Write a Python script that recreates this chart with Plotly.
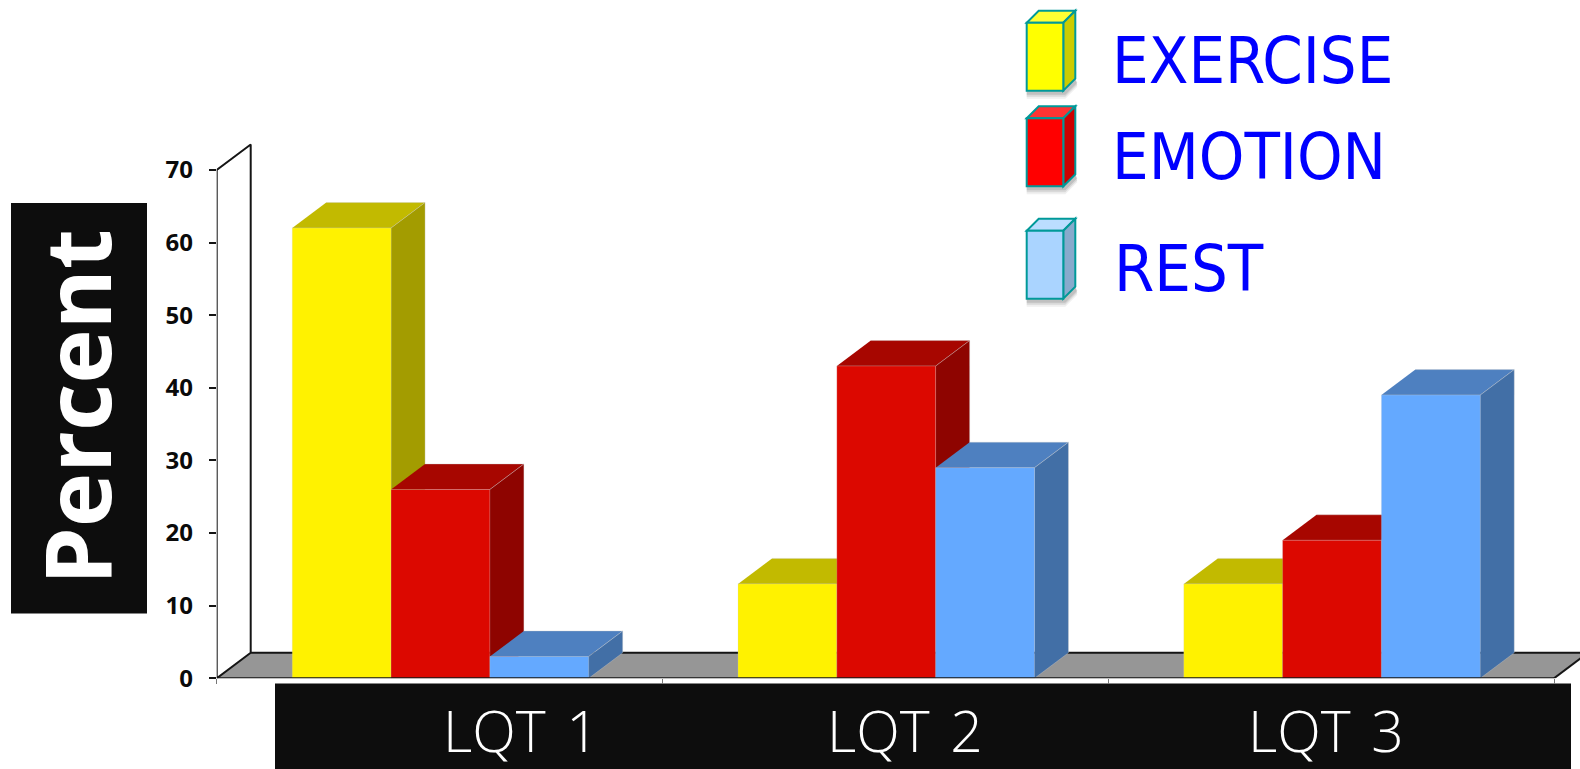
import plotly.graph_objects as go

# Chart data
categories = ["LQT 1", "LQT 2", "LQT 3"]
exercise = [62, 13, 13]
emotion = [26, 43, 19]
rest = [3, 29, 39]
y_ticks = [0, 10, 20, 30, 40, 50, 60, 70]
legend_names = ["EXERCISE", "EMOTION", "REST"]
axis_title = "Percent"

# Canvas and plot-area geometry, in pixels
W, H = 1580, 769
X0, X3, Y0, Y70 = 216.7, 1554.0, 678.3, 170.0
PX_PER_CAT = (X3 - X0) / 3
PX_PER_UNIT = (Y0 - Y70) / 70
DEPTH_X = 34 / PX_PER_CAT
DEPTH_Y = 25.5 / PX_PER_UNIT
X_MAX = (W - X0) / PX_PER_CAT
Y_MAX = 75
BAR_GAP = 0.335
BAR_W = (1 - BAR_GAP) / 3
GROUP_SHIFT = 0.002


def px(x):
    return x / W


def py(y):
    return 1 - y / H


series = [
    ("Exercise", exercise, "#FFF200", "#C2BA00", "#A39C00"),
    ("Emotion", emotion, "#DC0800", "#A70600", "#8E0400"),
    ("Rest", rest, "#64A9FF", "#4E80C0", "#426FA6"),
]

fig = go.Figure()


def polygon(xs, ys, fill, edge="rgba(0,0,0,0)", width=0, axes=("x", "y")):
    fig.add_trace(go.Scatter(
        x=xs, y=ys, mode="lines", fill="toself", fillcolor=fill,
        line=dict(color=edge, width=width), hoverinfo="skip",
        showlegend=False, xaxis=axes[0], yaxis=axes[1],
    ))


def outline(xs, ys, color="#151515", width=2, axes=("x", "y")):
    fig.add_trace(go.Scatter(
        x=xs, y=ys, mode="lines", line=dict(color=color, width=width),
        hoverinfo="skip", showlegend=False, cliponaxis=False,
        xaxis=axes[0], yaxis=axes[1],
    ))


# Floor and back wall of the 3D frame
polygon([0, DEPTH_X, 3 + DEPTH_X, 3], [0, DEPTH_Y, DEPTH_Y, 0], "#969696")
outline([3, 3 + DEPTH_X], [0, DEPTH_Y])
outline([X_MAX, DEPTH_X, DEPTH_X, 0, 0, DEPTH_X],
        [DEPTH_Y, DEPTH_Y, 70 + DEPTH_Y, 70, 0, DEPTH_Y])

# Top and side faces of each bar, drawn back-to-front within a group
FACE_EDGE = "rgba(205,205,205,0.45)"
for k, (_, values, _, top, side) in enumerate(series):
    for c, v in enumerate(values):
        left = c + 0.5 + GROUP_SHIFT + (k - 1.5) * BAR_W
        right = left + BAR_W
        polygon([left, right, right + DEPTH_X, left + DEPTH_X],
                [v, v, v + DEPTH_Y, v + DEPTH_Y], top, FACE_EDGE, 0.75)
        polygon([right, right + DEPTH_X, right + DEPTH_X, right],
                [0, DEPTH_Y, v + DEPTH_Y, v], side, FACE_EDGE, 0.75)

# Front faces live on an overlay subplot so they sit above every depth face
centers = [c + 0.5 + GROUP_SHIFT for c in range(len(categories))]
for name, values, front, _, _ in series:
    fig.add_trace(go.Bar(
        x=centers, y=values, name=name, marker=dict(
            color=front, line=dict(color="rgba(205,205,205,0.3)", width=0.75)),
        xaxis="x2", yaxis="y2", showlegend=False,
    ))
outline([0, 3], [0, 0], axes=("x2", "y2"))

# Black label bands
shapes = [
    dict(type="rect", xref="paper", yref="paper", layer="below",
         x0=px(11), x1=px(147), y0=py(203), y1=py(613.5),
         fillcolor="#0D0D0D", line_width=0),
    dict(type="rect", xref="paper", yref="paper", layer="below",
         x0=px(275), x1=px(1571), y0=py(683.5), y1=0,
         fillcolor="#0D0D0D", line_width=0),
]

# Small 3D legend keys
KEY_L, KEY_R, KEY_D = 1026.7, 1063.3, 12
key_tops = [22.7, 118.3, 230.7]
KEY_H = 68
key_colors = [
    ("#FFFF00", "#FFFF33", "#CCCC00"),
    ("#FF0000", "#FF3333", "#CC0000"),
    ("#AAD4FF", "#BBDDFF", "#88AACC"),
]
KEY_EDGE = "#009999"


def path(points):
    return "M " + " L ".join(f"{px(a):.5f},{py(b):.5f}" for a, b in points) + " Z"


for t, (front, top, side) in zip(key_tops, key_colors):
    b = t + KEY_H
    # soft drop shadow under the key
    for grow, alpha in ((0, 0.16), (2, 0.12), (4, 0.08)):
        shapes.append(dict(
            type="path", xref="paper", yref="paper",
            path=path([(KEY_L, b), (KEY_R, b), (KEY_R + KEY_D, b - KEY_D),
                       (KEY_R + KEY_D + 2, b - KEY_D + 4 + grow),
                       (KEY_R + 2, b + 4 + grow), (KEY_L, b + 4 + grow)]),
            fillcolor=f"rgba(60,60,60,{alpha})", line_width=0))
    faces = [
        ([(KEY_L, t), (KEY_R, t), (KEY_R + KEY_D, t - KEY_D), (KEY_L + KEY_D, t - KEY_D)], top),
        ([(KEY_R, t), (KEY_R + KEY_D, t - KEY_D), (KEY_R + KEY_D, b - KEY_D), (KEY_R, b)], side),
        ([(KEY_L, t), (KEY_R, t), (KEY_R, b), (KEY_L, b)], front),
    ]
    for pts, color in faces:
        shapes.append(dict(type="path", xref="paper", yref="paper", path=path(pts),
                           fillcolor=color, line=dict(color=KEY_EDGE, width=2)))

# Text placed over the chart
annotations = [dict(
    text=axis_title, xref="paper", yref="paper", x=px(75), y=py(407),
    textangle=-90, showarrow=False, xanchor="center", yanchor="middle",
    font=dict(family="Open Sans", size=92, color="white", weight="bold"),
)]
for name, cx in zip(categories, [521, 905, 1326]):
    annotations.append(dict(
        text=name.replace(" ", "\u00a0\u200a"), xref="paper", yref="paper",
        x=px(cx), y=py(730), showarrow=False, xanchor="center", yanchor="middle",
        font=dict(family="Open Sans", size=57, color="white", weight=300),
    ))
for name, lx, ly in zip(legend_names, [1110, 1110, 1112], [61, 156, 268]):
    annotations.append(dict(
        text=name, xref="paper", yref="paper", x=px(lx), y=py(ly),
        showarrow=False, xanchor="left", yanchor="middle",
        font=dict(family="DejaVu Sans Condensed", size=64.5, color="#0000FF"),
    ))

x_dom = [px(X0), 1]
y_dom = [py(Y0), py(Y0 - Y_MAX * PX_PER_UNIT)]

fig.update_layout(
    width=W, height=H, autosize=False,
    margin=dict(l=0, r=0, t=0, b=0, autoexpand=False),
    paper_bgcolor="white", plot_bgcolor="rgba(0,0,0,0)",
    barmode="group", bargap=BAR_GAP, bargroupgap=0,
    shapes=shapes, annotations=annotations,
    xaxis=dict(domain=x_dom, range=[0, X_MAX], tickmode="array",
               tickvals=[0, 1, 2, 3], showticklabels=False,
               ticks="outside", ticklen=5, tickwidth=1, tickcolor="#777777",
               showgrid=False, zeroline=False, showline=False),
    yaxis=dict(domain=y_dom, range=[0, Y_MAX], tickmode="array", tickvals=y_ticks,
               ticks="outside", ticklen=7, tickwidth=2, tickcolor="#151515",
               ticklabelstandoff=11,
               tickfont=dict(family="Open Sans", size=24, color="#0A0A0A", weight="bold"),
               showgrid=False, zeroline=False, showline=False),
    xaxis2=dict(domain=x_dom, range=[0, X_MAX], overlaying="x", anchor="y2",
                visible=False),
    yaxis2=dict(domain=y_dom, range=[0, Y_MAX], overlaying="y", anchor="x2",
                visible=False),
)

fig.write_html("out.html")
